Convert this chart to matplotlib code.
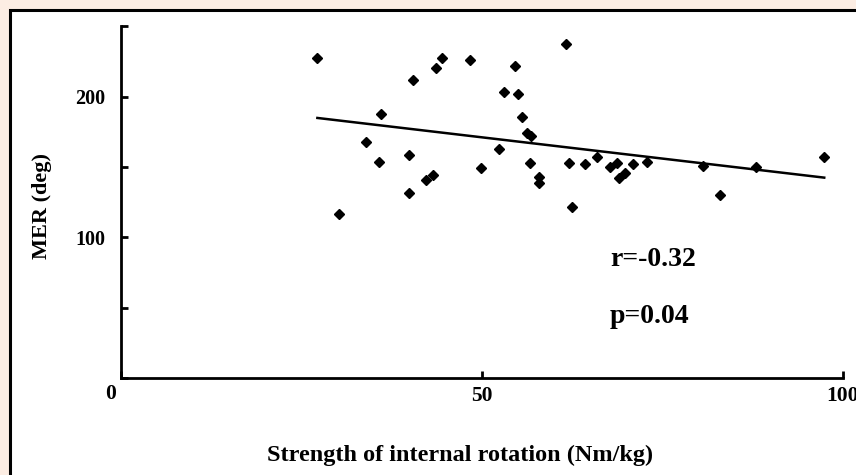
import matplotlib
matplotlib.use('Agg')
import matplotlib.pyplot as plt
import matplotlib.transforms as mtransforms
from matplotlib.patches import Rectangle
import numpy as np

# strength of internal rotation (Nm/kg) vs MER (deg)
strength = [27.2, 30.2, 36.0, 34.0, 35.8, 40.5, 39.9, 39.9, 42.3, 43.2,
            43.6, 44.5, 48.4, 49.8, 52.4, 53.1, 54.6, 55.0, 55.5, 56.2,
            56.8, 56.6, 57.9, 57.9, 61.6, 62.1, 62.5, 64.2, 65.9, 67.7,
            68.7, 69.0, 69.8, 70.9, 72.9, 80.6, 83.0, 87.9, 97.4]
mer = [227.2, 116.6, 187.6, 167.5, 153.7, 211.6, 158.5, 131.5, 140.7, 144.3,
       220.3, 227.2, 225.8, 149.4, 163.0, 203.5, 221.7, 202.0, 185.7, 174.4,
       172.0, 152.8, 143.0, 138.3, 237.6, 152.8, 121.3, 152.3, 157.3, 149.7,
       153.0, 141.9, 146.0, 151.8, 153.7, 150.7, 130.1, 149.7, 157.3]

stats_text = ["r=-0.32", "p=0.04"]
x_ticks = [0, 50, 100]
y_ticks = [0, 50, 100, 150, 200, 250]
y_tick_labels = ["", "", "100", "", "200", ""]

serif = ['Liberation Serif', 'DejaVu Serif']
plt.rcParams['font.family'] = serif
plt.rcParams['font.weight'] = 'bold'

fig = plt.figure(figsize=(8.56, 4.75), dpi=100)
fig.patch.set_facecolor('#fcede3')

# white panel with black border (runs off right and bottom edges)
panel = Rectangle((10 / 856, -0.1), 1.2, 1.1 - 10.5 / 475,
                  transform=fig.transFigure, facecolor='white',
                  edgecolor='black', linewidth=2.2, zorder=-5)
fig.patches.append(panel)

ax = fig.add_axes([121 / 856, 97 / 475, (843 - 121) / 856, (378 - 26.3) / 475])
ax.set_zorder(1)
ax.set_facecolor('none')
ax.set_xlim(0, 100)
ax.set_ylim(0, 250)
for side in ['top', 'right']:
    ax.spines[side].set_visible(False)
for side in ['left', 'bottom']:
    ax.spines[side].set_linewidth(2)

ax.plot(strength, mer, 'D', color='black', ms=5.2, clip_on=False)

# regression line over the data range
x = np.array(strength)
slope, icept = np.polyfit(x, np.array(mer), 1)
xs = np.array([x.min(), x.max()])
ax.plot(xs, slope * xs + icept, color='black', lw=1.8)

ax.set_xticks(x_ticks)
ax.set_xticklabels([str(v) for v in x_ticks], fontsize=15.5, fontweight='bold')
ax.set_yticks(y_ticks)
ax.set_yticklabels(y_tick_labels, fontsize=14.5, fontweight='bold')
ax.tick_params(axis='both', direction='in', length=5, width=2)
ax.tick_params(axis='y', pad=11)
ax.tick_params(axis='x', pad=6)
lbl0 = ax.get_xticklabels()[0]
lbl0.set_transform(lbl0.get_transform() +
                   mtransforms.ScaledTranslation(-0.1, 0.02, fig.dpi_scale_trans))

ax.text(67.7, 84, stats_text[0], fontsize=20, fontweight='bold', va='center')
ax.text(67.7, 43.5, stats_text[1], fontsize=20, fontweight='bold', va='center')

fig.text(460 / 856, 1 - 455 / 475, "Strength of internal rotation (Nm/kg)",
         fontsize=17.5, fontweight='bold', ha='center', va='center')
fig.text(42 / 856, 1 - 206 / 475, "MER (deg)", fontsize=16, fontweight='bold',
         ha='center', va='center', rotation=90)

fig.savefig('out.png', dpi=100, facecolor=fig.get_facecolor())
